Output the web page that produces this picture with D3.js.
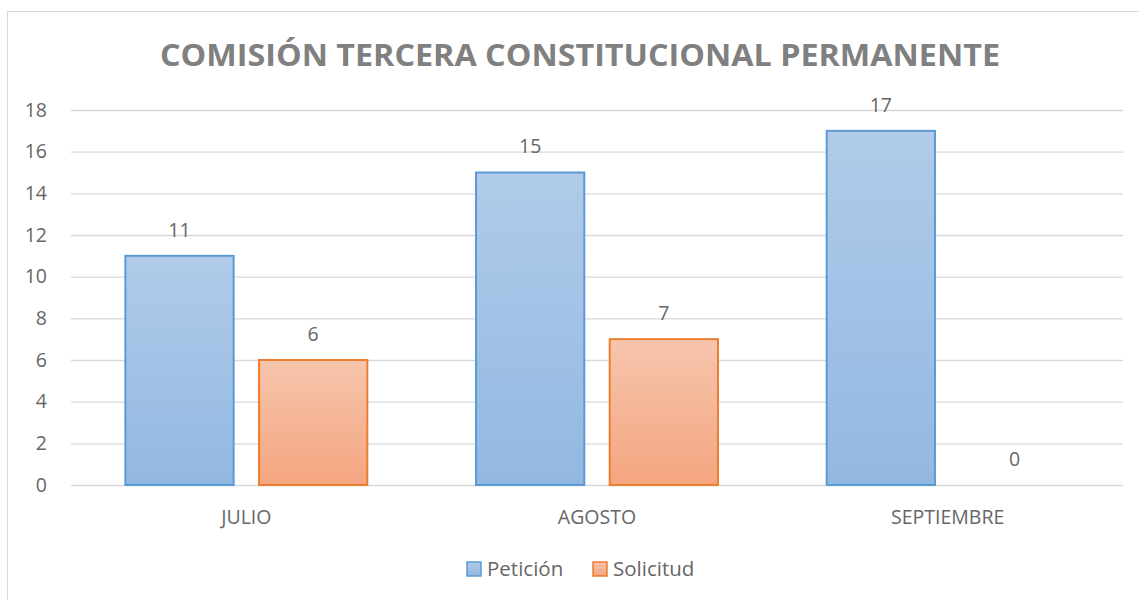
<!DOCTYPE html>
<html>
<head>
<meta charset="utf-8">
<script src="https://cdn.jsdelivr.net/npm/d3@7"></script>
<style>
  body { margin: 0; background: #fff; }
  text { font-family: "Open Sans", "Noto Sans", sans-serif; }
</style>
</head>
<body>
<svg id="chart" width="1139" height="600"></svg>
<script>
const months = ["JULIO", "AGOSTO", "SEPTIEMBRE"];
const seriesNames = ["Petición", "Solicitud"];
const peticion = [11, 15, 17];
const solicitud = [6, 7, 0];
const yTicks = [0, 2, 4, 6, 8, 10, 12, 14, 16, 18];

const margin = {left: 71, right: 16, top: 110, bottom: 115};
const width = 1139, height = 600;
const labelColor = '#666666';

const svg = d3.select('#chart');

// gradients
const defs = svg.append('defs');
const gradSpec = [
    {id: 'gBlue', top: '#b1cbe9', bottom: '#92b8e2'},
    {id: 'gOrange', top: '#f6c5ad', bottom: '#f4a57f'}
];
gradSpec.forEach(g => {
    const lg = defs.append('linearGradient')
        .attr('id', g.id)
        .attr('x1', 0).attr('y1', 0).attr('x2', 0).attr('y2', 1);
    lg.append('stop').attr('offset', '0%').attr('stop-color', g.top);
    lg.append('stop').attr('offset', '100%').attr('stop-color', g.bottom);
});
const fills = ['url(#gBlue)', 'url(#gOrange)'];
const strokes = ['#5b9bd5', '#ed7d31'];

// chart border
svg.append('rect')
    .attr('x', 7.5).attr('y', 11.5)
    .attr('width', 1160).attr('height', 620)
    .style('fill', 'none')
    .style('stroke', '#d9d9d9');

const x0 = d3.scaleBand()
    .domain(months)
    .range([margin.left, width - margin.right])
    .paddingInner(0.31)
    .paddingOuter(0.155);

const x1 = d3.scaleBand()
    .domain(seriesNames)
    .range([0, x0.bandwidth()])
    .paddingInner(0.19)
    .paddingOuter(0);

const y = d3.scaleLinear()
    .domain([0, 18])
    .range([485, 110]);

// gridlines
svg.append('g')
    .selectAll('line')
    .data(yTicks)
    .join('line')
    .attr('x1', margin.left)
    .attr('x2', width - margin.right)
    .attr('y1', d => y(d) + 0.5)
    .attr('y2', d => y(d) + 0.5)
    .style('stroke', '#d9d9d9')
    .style('stroke-width', 1.3);

// y labels
svg.append('g')
    .selectAll('text')
    .data(yTicks)
    .join('text')
    .attr('x', 47)
    .attr('y', d => y(d))
    .attr('dy', '0.35em')
    .style('text-anchor', 'end')
    .style('font-size', '19.5px')
    .style('fill', labelColor)
    .text(d => d);

const rows = months.map((m, i) => ({month: m, values: [peticion[i], solicitud[i]]}));

const groups = svg.append('g')
    .selectAll('g')
    .data(rows)
    .join('g')
    .attr('transform', d => `translate(${x0(d.month)},0)`);

groups.selectAll('rect')
    .data(d => d.values.map((v, j) => ({v, j})).filter(e => e.v > 0))
    .join('rect')
    .attr('x', d => x1(seriesNames[d.j]))
    .attr('y', d => y(d.v))
    .attr('width', x1.bandwidth())
    .attr('height', d => y(0) - y(d.v))
    .style('fill', d => fills[d.j])
    .style('stroke', d => strokes[d.j])
    .style('stroke-width', 2);

groups.selectAll('text')
    .data(d => d.values.map((v, j) => ({v, j})))
    .join('text')
    .attr('x', d => x1(seriesNames[d.j]) + x1.bandwidth() / 2)
    .attr('y', d => y(d.v) - 26)
    .attr('dy', '0.35em')
    .style('text-anchor', 'middle')
    .style('font-size', '19.5px')
    .style('fill', labelColor)
    .text(d => d.v);

// x labels
svg.append('g')
    .selectAll('text')
    .data(months)
    .join('text')
    .attr('x', d => x0(d) + x0.bandwidth() / 2)
    .attr('y', 517)
    .attr('dy', '0.35em')
    .style('text-anchor', 'middle')
    .style('font-size', '19.5px')
    .style('fill', labelColor)
    .text(d => d);

// title
svg.append('text')
    .attr('x', 580)
    .attr('y', 55)
    .attr('dy', '0.35em')
    .style('text-anchor', 'middle')
    .style('font-size', '31px')
    .style('font-weight', 'bold')
    .style('fill', '#808080')
    .attr('textLength', 840)
    .attr('lengthAdjust', 'spacingAndGlyphs')
    .text('COMISIÓN TERCERA CONSTITUCIONAL PERMANENTE');

// legend
const legendX = [467, 593];
const legend = svg.append('g')
    .selectAll('g')
    .data(seriesNames)
    .join('g')
    .attr('transform', (d, i) => `translate(${legendX[i]},562)`);

legend.append('rect')
    .attr('width', 14).attr('height', 14)
    .style('fill', (d, i) => fills[i])
    .style('stroke', (d, i) => strokes[i])
    .style('stroke-width', 1.5);

legend.append('text')
    .attr('x', 20)
    .attr('y', 7)
    .attr('dy', '0.35em')
    .style('font-size', '20.5px')
    .style('fill', labelColor)
    .text(d => d);
</script>
</body>
</html>
